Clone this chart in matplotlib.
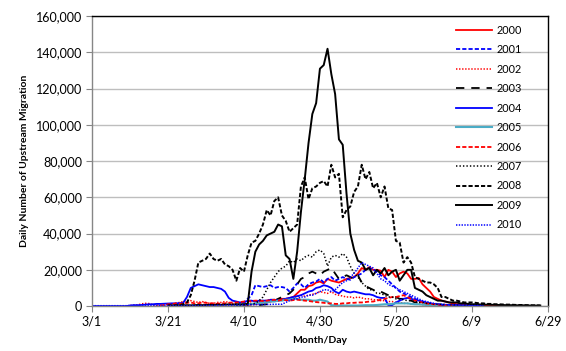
import matplotlib
matplotlib.use("Agg")
import matplotlib.pyplot as plt
import numpy as np
from matplotlib.ticker import FuncFormatter

# --- Data: daily counts (thousands), day 0 = 3/1 ---
tick_days = [0, 20, 40, 60, 80, 100, 120]
tick_labels = ["3/1", "3/21", "4/10", "4/30", "5/20", "6/9", "6/29"]

start_2000 = 40
y2000 = [0.5, 0.5, 1, 1, 1.5, 2, 2, 2.5, 3, 3.5, 4, 4, 4.5, 5, 7, 9, 9, 11, 11.5, 13,
         13.5, 12.5, 15, 14, 13.5, 13, 14, 15, 15.5, 16, 18, 21, 20, 21.5, 20, 20, 19.5, 16, 20, 19,
         16, 18, 19, 18, 15, 15, 15.5, 12, 10, 8, 5, 4, 3, 2.5, 2, 1.5, 1, 1, 0.8, 0.7,
         0.6, 0.5, 0.5, 0.4, 0.4, 0.3, 0.3, 0.3, 0.2]

start_2001 = 38
y2001 = [0.5, 1, 2, 4, 6, 11.5, 11, 10.5, 11, 11.5, 10, 10.5, 10.5, 10, 8, 10, 12.5, 12, 10, 12,
         13, 13.5, 15, 13, 15, 16, 14, 15, 16, 15, 14.5, 16, 17, 18, 20, 21, 20, 19, 17, 16,
         14, 12, 10, 8, 7, 6, 5, 4, 3, 2, 1.5, 1, 0.5, 0.5, 0.4, 0.3, 0.3, 0.2]

start_2002 = 10
y2002 = [0.3, 0.5, 0.6, 1.2, 1.5, 1.4, 0.8, 0.5, 0.5, 0.6, 0.8, 1, 1.5, 2, 2.5, 2.8, 3, 2.5, 2, 2.5,
         2, 1.5, 1.5, 2, 2, 2.5, 2, 1.5, 1.5, 2, 2.5, 2, 2.5, 3, 2.5, 3, 3, 3.5, 3, 3.5,
         4, 4, 4.5, 5, 5, 6, 5.5, 6, 6.5, 7, 8, 7.5, 7, 8, 6.5, 6, 5.5, 5, 5, 4.5,
         5, 4.5, 4, 4, 3.5, 3.5, 3, 3, 2.5, 2.5, 2, 2, 1.5, 1.5, 1.2, 1, 1, 0.8, 0.7, 0.6,
         0.5, 0.5, 0.4, 0.4, 0.3]

start_2003 = 44
y2003 = [0.5, 0.8, 1, 2, 3, 4, 5, 6, 7, 9, 12, 15, 16, 18, 19, 18, 17, 19, 20, 21,
         18, 15, 16, 17, 16, 15, 17, 13, 11, 10, 9, 8, 8, 7, 6, 5, 5, 4, 4, 3,
         3, 2, 2, 1.5, 1, 1, 0.8, 0.7, 0.6, 0.5, 0.5, 0.4, 0.3]

start_2004 = 0
y2004 = [0, 0, 0, 0, 0, 0, 0, 0, 0, 0, 0.3, 0.5, 0.5, 0.6, 0.8, 1, 1, 1.2, 1.2, 1.3,
         1.4, 1.5, 1.5, 1.6, 1.8, 5, 10, 11, 12, 11.5, 11, 10.5, 10.5, 10, 9.5, 8, 4.5, 3, 2.5, 2,
         2, 3, 3, 2.5, 3, 3, 3, 3.5, 3.5, 3, 3.5, 4, 4.5, 5, 5.5, 6, 7, 8, 8.5, 10,
         10.5, 11.5, 11, 10, 8, 7, 9, 8, 7.5, 8, 7.5, 7, 6.5, 6.5, 6, 5, 4.5, 4.5, 0.5, 0.5,
         2, 3, 4, 4.5, 4, 3.5, 3, 2.5, 2, 1.5, 1.2, 1, 0.8, 0.7, 0.6, 0.5, 0.5, 0.4, 0.4, 0.3,
         0.3, 0.3, 0.2, 0.2]

start_2005 = 38
y2005 = [0.5, 0.8, 1, 1, 1.2, 1.5, 1.5, 2, 2, 2.5, 2.5, 3, 3, 3.5, 3.5, 4, 4, 3.5, 3.5, 3.5,
         3, 3, 3.5, 3, 2.5, 0.5, 0.3, 0.3, 0.3, 0.3, 0.3, 0.3, 0.3, 0.4, 0.5, 0.5, 0.5, 0.6, 0.8, 1,
         1, 1.2, 1.5, 1.5, 1.5, 1.5, 1.2, 1, 1, 0.8, 0.6, 0.5, 0.4, 0.3]

start_2006 = 18
y2006 = [0.3, 0.5, 1, 1, 1.5, 1.2, 1.5, 1.8, 2, 1.5, 1.5, 2, 1.8, 1.5, 1.5, 1.2, 1.5, 1.5, 1.8, 2,
         2, 2.2, 2.5, 2.5, 2.8, 3, 3, 2.8, 3, 3.2, 3.5, 3, 3.5, 3.3, 3, 3.3, 3.5, 3.3, 3, 2.8,
         2.5, 2.2, 2, 1.8, 1.5, 1.5, 1.2, 1.2, 1.5, 1.5, 1.8, 1.8, 2, 2, 2.2, 2.5, 2.5, 3, 3.5, 4,
         4.5, 5, 5, 5.5, 6, 5, 4, 3, 2.5, 2, 1.5, 1.2, 1, 0.8, 0.6, 0.5, 0.4, 0.3]

start_2007 = 38
y2007 = [0.3, 0.4, 0.5, 0.5, 1, 1.5, 3, 5, 9, 13, 16, 19, 21, 22, 25, 24, 26, 25, 27, 28,
         27, 30, 31, 29, 22, 27, 28, 27, 29, 27, 22, 18, 16, 13, 11, 9, 9, 7, 7, 6,
         5, 5, 4, 4, 3.5, 3, 3, 2.5, 2, 2, 1.5, 1.5, 1.2, 1, 1, 0.8, 0.7, 0.6, 0.5, 0.5,
         0.4, 0.3]

start_2008 = 20
y2008 = [0.3, 0.4, 0.5, 0.5, 1, 2, 6, 14, 24, 25, 26, 29, 26, 25, 26, 23, 22, 20, 14, 21,
         19, 28, 35, 36, 40, 45, 53, 50, 58, 60, 50, 47, 41, 43, 45, 66, 71, 59, 65, 66,
         68, 69, 66, 78, 71, 73, 49, 53, 55, 63, 66, 78, 70, 74, 65, 68, 60, 66, 54, 53,
         36, 35, 24, 27, 24, 16, 15, 14, 13, 13, 12, 10, 5, 5, 4, 3, 3, 2.5, 2, 2,
         2, 1.8, 1.5, 1.5, 1.2, 1.2, 1, 1, 0.9, 0.8, 0.8, 0.7, 0.6, 0.6, 0.5, 0.5, 0.4, 0.4, 0.3]

start_2009 = 20
y2009 = [0.2, 0.3, 0.3, 0.4, 0.3, 0.5, 0.4, 0.5, 0.6, 0.5, 0.6, 0.7, 0.6, 0.8, 0.7, 0.8, 0.9, 0.8, 1.0, 0.9,
         1.0, 1.2, 19, 30, 34, 36, 39, 40, 41, 45, 44, 28, 26, 15, 30, 52, 70, 90, 106, 112,
         131, 133, 142, 128, 117, 92, 89, 62, 40, 31, 25, 24, 20, 21, 17, 20, 18, 21, 17, 19,
         20, 14, 17, 20, 20, 10, 9, 8, 6, 5, 4, 3, 3, 2.5, 2, 2, 2, 1.5, 1.5, 1.2,
         1.0, 1.0, 0.9, 0.8, 0.8, 0.7, 0.7, 0.6, 0.6, 0.5, 0.5, 0.5, 0.4, 0.4, 0.4, 0.3, 0.3, 0.3, 0.3]

start_2010 = 0
y2010 = [0.2, 0.2, 0.2, 0.2, 0.2, 0.2, 0.2, 0.2, 0.2, 0.2, 0.3, 0.3, 0.3, 0.3, 0.3, 0.3, 0.3, 0.3, 0.3, 0.3,
         0.3, 0.3, 0.3, 0.3, 0.3, 0.3, 0.3, 0.3, 0.3, 0.3, 0.4, 0.4, 0.4, 0.4, 0.5, 0.5, 0.5, 0.5, 0.6, 0.6,
         0.6, 0.7, 0.7, 0.8, 0.8, 0.8, 0.9, 0.9, 1, 1, 1, 2, 3, 4, 4, 5, 5, 6, 6, 7,
         8, 9, 9, 8, 9, 11, 13, 14, 16, 18, 21, 24, 23, 22, 21, 18, 15, 14, 12, 11,
         10, 9, 8, 7, 6, 5, 4, 3, 2.5, 2, 1.5, 1.2, 1, 0.8, 0.7, 0.6, 0.5, 0.5, 0.4, 0.4,
         0.3, 0.3, 0.3, 0.2]

# --- Styles ---
plt.rcParams["font.family"] = ["Lato", "DejaVu Sans"]
plt.rcParams["lines.scale_dashes"] = False

series = [
    ("2000", start_2000, y2000, "#FF0000", "-", 1.3),
    ("2001", start_2001, y2001, "#0000FF", (0, (3, 1.5)), 1.3),
    ("2002", start_2002, y2002, "#FF0000", (0, (1, 1.2)), 1.1),
    ("2003", start_2003, y2003, "#000000", (0, (6, 5)), 1.3),
    ("2004", start_2004, y2004, "#0000FF", "-", 1.3),
    ("2005", start_2005, y2005, "#4BACC6", "-", 1.5),
    ("2006", start_2006, y2006, "#FF0000", (0, (3, 1.5)), 1.3),
    ("2007", start_2007, y2007, "#000000", (0, (1, 1.5)), 1.1),
    ("2008", start_2008, y2008, "#000000", (0, (3, 1.5)), 1.4),
    ("2009", start_2009, y2009, "#000000", "-", 1.4),
    ("2010", start_2010, y2010, "#0000FF", (0, (1, 1)), 1.1),
]

fig = plt.figure(figsize=(5.66, 3.51), dpi=100)
ax = fig.add_axes([0.1625, 0.128, 0.8055, 0.826])

for name, start, vals, color, ls, lw in series:
    d = np.arange(start, start + len(vals))
    ax.plot(d, np.array(vals) * 1000, color=color, linestyle=ls, linewidth=lw, label=name)

ax.set_xlim(0, 120)
ax.set_ylim(0, 160000)
ax.set_xticks(tick_days)
ax.set_xticklabels(tick_labels)
ax.set_yticks(np.arange(0, 160001, 20000))
ax.yaxis.set_major_formatter(FuncFormatter(lambda v, p: f"{int(v):,}"))
ax.grid(axis="y", color="#BEBEBE", linewidth=1.0)
ax.set_axisbelow(True)

for s in ["top", "right"]:
    ax.spines[s].set_color("#000000")
    ax.spines[s].set_linewidth(1.0)
for s in ["left", "bottom"]:
    ax.spines[s].set_color("#868686")
    ax.spines[s].set_linewidth(1.0)
ax.tick_params(axis="both", direction="out", length=4, color="#868686",
               labelsize=9, labelcolor="#000000", pad=3)

ax.set_ylabel("Daily Number of Upstream Migration", fontsize=7.5, fontweight="bold", labelpad=5)
ax.set_xlabel("Month/Day", fontsize=7.5, fontweight="bold", labelpad=6)

ax.legend(loc="upper left", bbox_to_anchor=(0.79, 0.985), frameon=False, fontsize=7.8,
          handlelength=3.3, handletextpad=0.4, labelspacing=0.78, borderaxespad=0)

fig.savefig("out.png", dpi=100, facecolor="white")
